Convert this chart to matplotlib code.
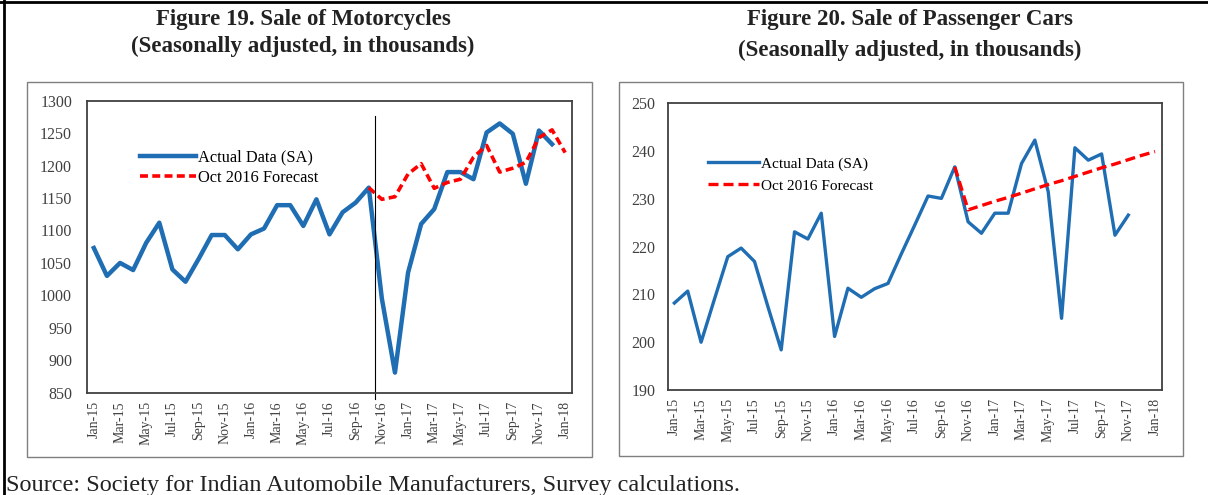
import matplotlib
matplotlib.use('Agg')
import matplotlib.pyplot as plt
from matplotlib.patches import Rectangle
from matplotlib.lines import Line2D
import pandas as pd

plt.rcParams['font.family'] = ['Liberation Serif', 'DejaVu Serif']

# months Jan-15 .. Jan-18 (category axis)
months = pd.date_range('2015-01-01', '2018-01-01', freq='MS')
month_labels = [m.strftime('%b-%y') for m in months]

# Figure 19 - motorcycles (thousands, SA), Jan-15 .. Dec-17
moto_actual = [1073, 1030, 1050, 1039, 1081, 1112, 1040, 1021, 1056, 1093,
               1093, 1071, 1094, 1103, 1139, 1139, 1107, 1148, 1094, 1128,
               1143, 1166, 995, 881, 1035, 1110, 1133, 1190, 1190, 1179,
               1251, 1265, 1249, 1172, 1254, 1233]
# Oct 2016 forecast, Oct-16 .. Jan-18
moto_forecast = [1166, 1148, 1152, 1187, 1203, 1165, 1174, 1179, 1213, 1231,
                 1190, 1196, 1205, 1243, 1255, 1220]

# Figure 20 - passenger cars (thousands, SA), Jan-15 .. Nov-17
car_actual = [208.2, 210.7, 200.0, 209.0, 217.9, 219.7, 216.9, 207.5, 198.4,
              223.1, 221.6, 227.0, 201.2, 211.3, 209.4, 211.2, 212.3, 218.5,
              224.5, 230.6, 230.1, 236.7, 225.2, 222.8, 227.0, 227.0, 237.4,
              242.3, 231.5, 205.0, 240.7, 238.1, 239.4, 222.4, 226.6]
car_forecast = [236.7, 227.7, 228.6, 229.5, 230.3, 231.2, 232.1, 233.0, 233.8,
                234.7, 235.6, 236.5, 237.3, 238.2, 239.1, 239.9]

forecast_start = 21   # Oct-16
demonetisation = 21.5

W, H = 1208, 495
fig = plt.figure(figsize=(W / 100, H / 100), dpi=100)


def px(x0, y0, x1, y1):
    # pixel box (top-left origin) -> figure fraction rect
    return [x0 / W, 1 - y1 / H, (x1 - x0) / W, (y1 - y0) / H]


# outer frame (left and top) and panel boxes
fig.add_artist(Line2D([4 / W, 4 / W], [0, 1], color='black', lw=2))
fig.add_artist(Line2D([0, 1], [1 - 2 / H, 1 - 2 / H], color='black', lw=2))
for box in [(27, 81.7, 592.3, 456.7), (619.3, 81.7, 1183.3, 456)]:
    r = px(*box)
    fig.add_artist(Rectangle((r[0], r[1]), r[2], r[3], fill=False,
                             edgecolor='#7f7f7f', lw=1.0))

blue = '#1f6db3'
red = '#ff0000'

ax1 = fig.add_axes(px(87.3, 100.7, 571.7, 392.7))
ax2 = fig.add_axes(px(667.7, 103.3, 1161.7, 390))

x_moto = range(len(moto_actual))
x_moto_f = range(forecast_start, forecast_start + len(moto_forecast))
ax1.plot(x_moto, moto_actual, color=blue, lw=3.2, label='Actual Data (SA)')
ax1.plot(x_moto_f, moto_forecast, color=red, lw=2.6, ls=(0, (2.2, 1.2)),
         label='Oct 2016 Forecast')
ax1.plot([demonetisation, demonetisation], [1277, 840], color='black', lw=0.8,
         clip_on=False)
ax1.set_ylim(850, 1300)
ax1.set_yticks(range(850, 1301, 50))

x_car = range(len(car_actual))
x_car_f = range(forecast_start, forecast_start + len(car_forecast))
ax2.plot(x_car, car_actual, color=blue, lw=2.4, label='Actual Data (SA)')
ax2.plot(x_car_f, car_forecast, color=red, lw=2.4, ls=(0, (3, 1.5)),
         label='Oct 2016 Forecast')
ax2.set_ylim(190, 250)
ax2.set_yticks(range(190, 251, 10))

for ax, pad in [(ax1, 11), (ax2, 9)]:
    ax.set_xlim(-0.5, len(months) - 0.5)
    ax.set_xticks(range(0, len(months), 2))
    ax.set_xticklabels(month_labels[::2], rotation=90, fontsize=10,
                       color='#404040')
    ax.tick_params(axis='x', length=0, pad=6)
    ax.tick_params(axis='y', length=0, pad=pad, labelsize=11.5,
                   labelcolor='#404040')
    for s in ax.spines.values():
        s.set_color('#404040')
        s.set_linewidth(1.3)

ax1.legend(loc='upper left', bbox_to_anchor=(0.095, 0.855), frameon=False,
           fontsize=11.8, handlelength=3.4, handletextpad=0.15,
           labelspacing=0.25, borderaxespad=0)
ax2.legend(loc='upper left', bbox_to_anchor=(0.07, 0.835), frameon=False,
           fontsize=11, handlelength=3.3, handletextpad=0.15,
           labelspacing=0.55, borderaxespad=0)

title_kw = dict(ha='center', va='center', fontsize=16.5, fontweight='bold',
                color='#222222')
fig.text(303 / W, 1 - 20 / H, 'Figure 19. Sale of Motorcycles', **title_kw)
fig.text(303 / W, 1 - 46 / H, '(Seasonally adjusted, in thousands)', **title_kw)
fig.text(910 / W, 1 - 20 / H, 'Figure 20. Sale of Passenger Cars', **title_kw)
fig.text(910 / W, 1 - 50 / H, '(Seasonally adjusted, in thousands)', **title_kw)

fig.text(6 / W, 1 - 485 / H,
         'Source: Society for Indian Automobile Manufacturers, Survey calculations.',
         ha='left', va='center', fontsize=17.5, color='#222222')

fig.savefig('out.png', dpi=100)
